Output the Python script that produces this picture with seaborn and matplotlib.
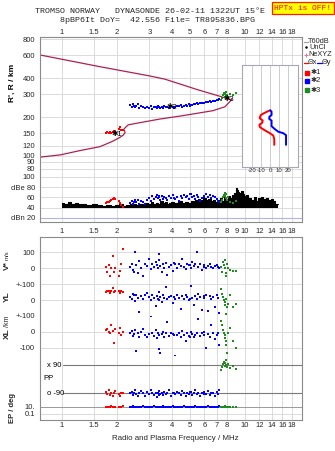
import numpy as np
import pandas as pd
import matplotlib
matplotlib.use('Agg')
import matplotlib.pyplot as plt
from matplotlib.lines import Line2D
from matplotlib.ticker import FixedLocator, FixedFormatter, NullLocator
import seaborn as sns

# ---------------- data ----------------
tick_f = [1, 1.5, 2, 3, 4, 5, 6, 7, 8, 10, 12, 14, 16, 18]
tick_l = ['1', '1.5', '2', '3', '4', '5', '6', '7', '8', '10', '12', '14', '16', '18']
mid_tick_f = [1, 1.5, 2, 3, 4, 5, 6, 7, 8, 9, 10, 12, 14, 16, 18]
mid_tick_l = ['1', '1.5', '2', '3', '4', '5', '6', '7', '8', '9', '10', '12', '14', '16', '18']
height_ticks = [80, 90, 100, 120, 150, 200, 300, 400, 600, 800]
amp_ticks = [100, 80, 60, 40, 20]
amp_labels = ['100', 'dBe 80', '60', '40', 'dBn 20']

# model trace (lower and upper branch)
lo_f = [0.76, 0.98, 1.25, 1.61, 1.87, 2.07, 2.16, 2.21, 2.20, 2.17, 2.22, 2.30, 2.67, 3.43, 4.58, 6.68, 7.77, 8.45]
lo_h = [98, 102, 110, 118, 129, 139, 145, 151, 156, 160, 166, 174, 181, 193, 205, 224, 240, 272]
up_f = [0.76, 1.61, 3.03, 3.66, 5.56, 7.14, 7.93, 8.45]
up_h = [603, 490, 415, 392, 324, 292, 279, 272]
# NeXYZ markers
ne_f = [1.99, 2.56, 2.92, 3.36, 3.81, 4.42, 4.80, 5.21, 5.67, 6.70]
ne_h = [125, 178, 183, 191, 198, 206, 211, 215, 219, 229]

# tilt inset
tx_h = [224, 216, 207, 196, 188, 181, 174, 167, 159, 151, 144, 135, 122]
tx_v = [-1, -6, -10.5, -11.7, -8.3, -8.8, -12, -11.3, -6.6, -1, 3.4, 4.5, 4.5]
ty_h = [226, 220, 207, 201, 193, 188, 170, 161, 154, 150, 145, 122]
ty_v = [0, 1.5, 1.5, -1, -1, 1.5, 1.5, 5.3, 9, 14.5, 17.5, 17.5]

# noise level
noise_f = [1.0, 1.05, 1.1, 1.15, 1.2, 1.25, 1.3, 1.4, 1.5, 1.6,
           1.7, 1.8, 1.9, 2.0, 2.1, 2.2, 2.3, 2.4, 2.5, 2.6,
           2.7, 2.8, 2.9, 3.0, 3.1, 3.2, 3.3, 3.4, 3.5, 3.6,
           3.7, 3.8, 3.9, 4.0, 4.2, 4.4, 4.6, 4.8, 5.0, 5.2,
           5.4, 5.5, 5.6, 5.8, 6.0, 6.2, 6.4, 6.6, 6.8, 7.0,
           7.2, 7.4, 7.6, 7.8, 8.0, 8.2, 8.4, 8.6, 8.8, 9.0,
           9.1, 9.2, 9.4, 9.6, 9.8, 10.0, 10.3, 10.6, 11.0, 11.3,
           11.6, 12.0, 12.4, 12.8, 13.2, 13.6, 14.0, 14.4, 14.8, 15.2]
noise_top = [49, 47, 50, 46, 48, 47, 46, 45, 46, 45,
             44, 45, 44, 45, 46, 44, 45, 47, 46, 45,
             47, 46, 48, 47, 50, 46, 49, 47, 52, 48,
             50, 47, 49, 51, 48, 52, 49, 50, 48, 52,
             54, 50, 57, 55, 58, 54, 56, 52, 55, 50,
             54, 58, 52, 60, 56, 62, 59, 64, 68, 78,
             74, 70, 68, 72, 66, 62, 64, 58, 54, 60,
             52, 58, 60, 56, 59, 54, 57, 52, 47, 46]
noise_base = 40

# echo groups
red_f = [1.74, 1.77, 1.80, 1.83, 1.86, 1.89, 1.92, 1.95, 2.04, 2.07, 2.10, 2.15]
red_h = [150, 152, 151, 153, 150, 152, 155, 153, 163, 168, 160, 158]
red_amp = [48, 50, 51, 53, 54, 56, 58, 57, 52, 48, 45, 42]
red_v = [10, -20, 24, -45, 5, 79, -24, 2, -49, -17, 30, 120]
red_yl = [50, 55, 60, 45, 55, 75, 50, 60, 55, 45, 58, 52]
red_xl = [10, 20, 0, -10, 40, 5, -72, 15, -5, 25, -20, 0]
red_pp = [-80, -95, -70, -100, -85, -110, -90, -75, -95, -105, -85, -90]
red_ep = [10, 9, 11, 10, 12, 8, 10, 11, 9, 10, 10, 12]

green_f = [7.35, 7.5, 7.6, 7.7, 7.75, 7.8, 7.85, 7.9, 8.0, 8.1, 8.3, 8.6, 8.9]
green_h = [272, 280, 295, 305, 285, 300, 310, 290, 298, 285, 300, 295, 305]
green_amp = [50, 55, 60, 65, 68, 62, 58, 66, 55, 60, 50, 48, 52]
green_v = [10, -20, 40, 20, 52, 0, -30, -45, 30, 5, -10, -19, -19]
green_yl = [68, 41, 19, 0, -12, -29, -87, 10, -45, -23, 30, -45, -23]
green_xl = [66, 40, 10, -5, -20, -40, -57, -83, -135, -10, 25, -60, -100]
green_pp = [60, 80, 95, 110, 100, 85, 120, 90, 75, 95, 70, 85, 65]
green_ep = [10, 10, 11, 9, 10, 12, 10, 9, 10, 11, 10, 10, 11]

blue_f = [2.35, 2.40, 2.45, 2.50, 2.55, 2.60, 2.65, 2.70, 2.78, 2.85,
          2.92, 3.00, 3.05, 3.10, 3.18, 3.25, 3.30, 3.35, 3.40, 3.45,
          3.50, 3.55, 3.60, 3.68, 3.75, 3.85, 3.95, 4.05, 4.15, 4.25,
          4.35, 4.45, 4.55, 4.65, 4.75, 4.85, 4.95, 5.05, 5.15, 5.25,
          5.35, 5.45, 5.55, 5.65, 5.80, 5.95, 6.10, 6.25, 6.40, 6.55,
          6.70, 6.85, 7.00, 7.10, 7.25, 2.48, 3.38, 4.10, 5.00, 6.00]
blue_h = [248, 240, 252, 238, 245, 250, 236, 242, 240, 233,
          238, 236, 243, 232, 240, 238, 235, 242, 238, 233,
          240, 236, 244, 238, 240, 236, 242, 240, 238, 244,
          242, 246, 240, 245, 248, 244, 250, 246, 248, 252,
          250, 255, 252, 256, 255, 258, 262, 260, 265, 262,
          268, 266, 272, 270, 276, 244, 240, 236, 245, 258]
blue_amp = [48, 52, 46, 54, 50, 55, 47, 53, 50, 46,
            55, 58, 52, 62, 56, 60, 64, 58, 62, 55,
            63, 57, 61, 59, 54, 62, 58, 64, 56, 60,
            53, 62, 58, 65, 60, 63, 57, 66, 60, 62,
            56, 64, 60, 52, 58, 62, 66, 60, 64, 58,
            62, 60, 56, 52, 50, 51, 60, 58, 66, 60]
blue_v = [10, 30, -10, 100, 20, -30, 45, 5, -50, 25,
          15, 60, -5, 30, 10, 40, 20, 0, 90, 15,
          -20, 25, 5, 35, -40, 10, 20, -15, 30, 5,
          25, 15, 60, 10, -5, 30, 20, 0, 40, 15,
          25, 105, 10, 30, -10, 20, 5, 15, 25, 10,
          0, 15, 20, 10, 5, -25, 50, 35, 20, 10]
blue_yl = [20, 10, 40, -5, 30, 15, -75, 25, 5, 35,
           45, 20, 0, 30, 15, -40, 25, 10, 50, 20,
           -10, 30, 15, 85, 5, 20, 25, -20, 10, 35,
           15, -55, 25, 10, 30, 20, 0, 90, 15, -30,
           25, 10, 40, 20, -60, 15, 30, -70, 25, 10,
           20, -45, 35, 15, -80, 30, 0, 20, 10, 25]
blue_xl = [-10, 5, -25, 10, -120, -5, -35, 0, 15, -20,
           -30, -15, 100, -5, -25, 10, -40, -10, -20, -135,
           -15, 0, -30, -10, 60, -25, -5, -15, -150, -20,
           -10, -30, 5, -20, -60, -10, -25, 0, -15, -35,
           -20, -5, 80, -25, -10, -20, -100, -15, -30, 40,
           -10, -45, -20, -5, -85, -15, -110, -20, -30, 0]
blue_pp = [-90, -80, -100, -70, -95, -110, -85, -75, -90, -105,
           -80, -95, -70, -90, -100, -85, -115, -90, -75, -95,
           -85, -100, -80, -95, -90, -70, -105, -85, -95, -80,
           -90, -100, -75, -90, -110, -85, -95, -80, -100, -90,
           -70, -95, -85, -105, -90, -80, -95, -75, -100, -85,
           -90, -110, -80, -95, -70, -85, -100, -90, -80, -95]
blue_ep = [10, 8, 12, 9, 11, 10, 7, 10, 13, 9,
           10, 11, 8, 10, 12, 9, 10, 7, 11, 10,
           9, 12, 10, 8, 11, 10, 9, 13, 10, 8,
           11, 10, 9, 12, 10, 7, 10, 11, 9, 10,
           12, 8, 10, 11, 9, 10, 10, 12, 8, 10,
           11, 9, 10, 10, 12, 9, 11, 10, 8, 10]

# ---------------- style ----------------
sns.set_theme(style='white')
plt.rcParams['font.family'] = ['Liberation Sans', 'DejaVu Sans']
plt.rcParams['axes.unicode_minus'] = False

W, H = 335, 451
fig = plt.figure(figsize=(W / 100, H / 100), dpi=100)
fig.patch.set_facecolor('white')

RED, BLUE, GREEN = '#ff0000', '#0000ff', '#1e8c1e'
TRACE = '#b0204e'
PINK = '#e070a0'
GRID = '#d6d6d6'
FRAME = '#8a8a8a'
TFS = 5.5
FMIN, FMAX = 0.758, 20.5


def box(x0, y0, x1, y1):
    return [x0 / W, 1 - y1 / H, (x1 - x0) / W, (y1 - y0) / H]


def fx(x):
    return x / W


def fy(y):
    return 1 - y / H


def freq_axis(ax, ticks=tick_f, labels=tick_l, where=None, pad=1.5):
    ax.set_facecolor('white')
    ax.set_xscale('log')
    ax.set_xlim(FMIN, FMAX)
    for f in tick_f:
        ax.axvline(f, color=GRID, lw=0.6, zorder=0)
    ax.xaxis.set_major_locator(FixedLocator(ticks))
    ax.xaxis.set_major_formatter(FixedFormatter(labels))
    ax.xaxis.set_minor_locator(NullLocator())
    ax.tick_params(axis='x', length=0, labelsize=TFS, pad=pad,
                   labelbottom=(where == 'bottom'), labeltop=(where == 'top'),
                   bottom=False, top=False)
    for s in ax.spines.values():
        s.set_color(FRAME)
        s.set_linewidth(0.8)


def y_ticks(ax, vals, labels, grid=True, gcolor=GRID):
    ax.yaxis.set_major_locator(FixedLocator(vals))
    ax.yaxis.set_major_formatter(FixedFormatter(labels))
    ax.yaxis.set_minor_locator(NullLocator())
    ax.tick_params(axis='y', length=0, labelsize=TFS, pad=3.6)
    if grid:
        for v in vals:
            ax.axhline(v, color=gcolor, lw=0.6, zorder=0)


red = pd.DataFrame(dict(f=red_f, h=red_h, amp=red_amp, v=red_v, yl=red_yl, xl=red_xl, pp=red_pp, ep=red_ep))
blue = pd.DataFrame(dict(f=blue_f, h=blue_h, amp=blue_amp, v=blue_v, yl=blue_yl, xl=blue_xl, pp=blue_pp, ep=blue_ep))
green = pd.DataFrame(dict(f=green_f, h=green_h, amp=green_amp, v=green_v, yl=green_yl, xl=green_xl, pp=green_pp, ep=green_ep))
groups = [(red, RED), (blue, BLUE), (green, GREEN)]
MS = 3.4


def scatter(ax, col):
    for df, c in groups:
        sns.scatterplot(data=df, x='f', y=col, color=c, marker='s', s=MS,
                        linewidth=0, ax=ax, legend=False, zorder=3)
    ax.set_xlabel('')
    ax.set_ylabel('')


# ---------------- height panel ----------------
ax_h = fig.add_axes(box(40, 37, 302, 172))
ax_h.set_yscale('log')
freq_axis(ax_h, where='top', pad=0.8)
ax_h.set_ylim(75.2, 831)
y_ticks(ax_h, height_ticks, [str(v) for v in height_ticks])
ax_h.spines['bottom'].set_visible(False)

trace_lo = pd.DataFrame(dict(f=lo_f, h=lo_h))
trace_up = pd.DataFrame(dict(f=up_f, h=up_h))
sns.lineplot(data=trace_lo, x='f', y='h', sort=False, estimator=None, color=TRACE, lw=0.9, ax=ax_h, zorder=2)
sns.lineplot(data=trace_up, x='f', y='h', sort=False, estimator=None, color=TRACE, lw=0.9, ax=ax_h, zorder=2)
ne = pd.DataFrame(dict(f=ne_f, h=ne_h))
sns.scatterplot(data=ne, x='f', y='h', color=PINK, marker='$\\mathtt{I}$', s=12, linewidth=0, ax=ax_h, legend=False, zorder=3)
scatter(ax_h, 'h')
ax_h.text(2.0, 146, '✱1', fontsize=5.5, color='black', ha='center', va='center', zorder=5)
ax_h.text(3.99, 239, '✱2', fontsize=5.5, color='black', ha='center', va='center', zorder=5)
ax_h.text(8.2, 272, '✱3', fontsize=5.5, color='black', ha='center', va='center', zorder=5)
ax_h.text(-0.105, 0.66, "R', R / km", transform=ax_h.transAxes, rotation=90, fontsize=6,
          fontweight='bold', ha='center', va='center', color='black')

# ---------------- tilt inset ----------------
ax_in = fig.add_axes(box(241.7, 65, 297.7, 167.3))
ax_in.set_facecolor('white')
ax_in.set_yscale('log')
ax_in.set_ylim(81.8, 505)
ax_in.set_xlim(-31.5, 30.4)
for t in [-20, -10, 0, 10, 20]:
    ax_in.axvline(t, color='#c4c4cc', lw=0.6, zorder=0)
ax_in.xaxis.set_major_locator(FixedLocator([-20, -10, 0, 10, 20]))
ax_in.xaxis.set_major_formatter(FixedFormatter(['-20', '-10', '0', '10', '20']))
ax_in.yaxis.set_major_locator(NullLocator())
ax_in.yaxis.set_minor_locator(NullLocator())
ax_in.tick_params(axis='x', length=0, labelsize=4.3, pad=0.8)
for s in ax_in.spines.values():
    s.set_color('#a8a8b4')
    s.set_linewidth(0.8)
tdx = pd.DataFrame(dict(t=tx_v, h=tx_h))
tdy = pd.DataFrame(dict(t=ty_v, h=ty_h))
sns.lineplot(data=tdx, x='t', y='h', sort=False, estimator=None, color=RED, lw=1.4, ax=ax_in)
sns.lineplot(data=tdy, x='t', y='h', sort=False, estimator=None, color=BLUE, lw=1.4, ax=ax_in)
ax_in.set_ylabel('')
ax_in.set_xlabel('Tilt / deg', fontsize=4.3, labelpad=0.3)

# ---------------- amplitude panel ----------------
ax_a = fig.add_axes(box(40, 172, 302, 222))
freq_axis(ax_a, ticks=mid_tick_f, labels=mid_tick_l, where='bottom', pad=4.2)
ax_a.set_ylim(11.6, 109.8)
y_ticks(ax_a, amp_ticks, amp_labels)
ax_a.axhline(20, color='#b4b4e4', lw=0.8, zorder=0)
ax_a.spines['top'].set_visible(False)
noise = pd.DataFrame(dict(f=noise_f, top=noise_top))
ax_a.fill_between(noise['f'], noise_base, noise['top'], step='mid', color='black', lw=0, zorder=2)
sns.lineplot(data=noise, x='f', y='top', drawstyle='steps-mid', color='black', lw=0.8, ax=ax_a, zorder=2)
scatter(ax_a, 'amp')

# ---------------- lower stacked panels ----------------
bands = [
    ('v', 237, 284.3, (-100, 197), [100, 0], ['100', '0'], False),
    ('yl', 284.3, 316, (-100, 100), [100, 0, -100], ['+-100', '0', '+-100'], False),
    ('xl', 316, 356, (-153, 100), [0, -100], ['0', '-100'], False),
    ('pp', 356, 400, (-132.7, 147.3), [], [], False),
    ('ep', 400, 419.5, (10 ** -2.507, 10 ** 2.836), [10, 0.1], ['10.', '0.1'], True),
]
lower_axes = {}
for i, (col, y0, y1, lim, tv, tl, logy) in enumerate(bands):
    ax = fig.add_axes(box(40, y0, 302, y1))
    if logy:
        ax.set_yscale('log')
    last = (i == len(bands) - 1)
    freq_axis(ax, where='bottom' if last else None, pad=1.6)
    ax.set_ylim(*lim)
    y_ticks(ax, tv, tl)
    if i > 0:
        ax.spines['top'].set_visible(False)
    if not last:
        ax.spines['bottom'].set_visible(False)
    scatter(ax, col)
    ax.set_ylim(*lim)
    lower_axes[col] = ax

ax_pp = lower_axes['pp']
for v, lab in [(90, 'x 90'), (-90, 'o -90')]:
    ax_pp.axhline(v, xmin=0.088, xmax=1, color='#7a7a7a', lw=0.8, zorder=1)
    ax_pp.text(0.027, v, lab, transform=ax_pp.get_yaxis_transform(), fontsize=TFS,
               ha='left', va='center', color='black')
ax_pp.text(0.012, 5, 'PP', transform=ax_pp.get_yaxis_transform(), fontsize=TFS,
           ha='left', va='center', color='black')
lower_axes['ep'].axhline(10, color='#9a9a9a', lw=0.7, zorder=1)

# lower-panel side labels
fig.text(fx(7.5), fy(266), 'V*', rotation=90, fontsize=6, fontweight='bold', ha='center', va='center')
fig.text(fx(7.5), fy(255), 'm/s', rotation=90, fontsize=4.3, ha='center', va='center')
fig.text(fx(7.5), fy(297), 'YL', rotation=90, fontsize=6, fontweight='bold', ha='center', va='center')
fig.text(fx(7.5), fy(321), '/km', rotation=90, fontsize=5, ha='center', va='center')
fig.text(fx(7.5), fy(334), 'XL', rotation=90, fontsize=6, fontweight='bold', ha='center', va='center')
fig.text(fx(13), fy(408), 'EP / deg', rotation=90, fontsize=5.5, fontweight='bold', ha='center', va='center')
fig.text(fx(175), fy(439), 'Radio and Plasma Frequency / MHz', fontsize=5.7, ha='center', va='center')

# ---------------- header ----------------
fig.text(fx(35), fy(11.7), 'TROMSO NORWAY   DYNASONDE 26-02-11 1322UT 15°E',
         family=['Liberation Mono', 'DejaVu Sans Mono'], fontsize=6, ha='left', va='center')
fig.text(fx(60), fy(20.3), '8pBP6It DoY=  42.556 File= TR895836.BPG',
         family=['Liberation Mono', 'DejaVu Sans Mono'], fontsize=6, ha='left', va='center')
fig.text(fx(303), fy(8), 'HPTx is OFF!', family=['Liberation Mono', 'DejaVu Sans Mono'],
         fontsize=5.8, color='#ff0000', ha='center', va='center',
         bbox=dict(boxstyle='square,pad=0.25', fc='#ffff00', ec='#ff2000', lw=0.9))

# ---------------- legend (right side) ----------------
LFS = 5.3
def fline(x0, x1, y, c, lw=0.9):
    fig.add_artist(Line2D([fx(x0), fx(x1)], [fy(y), fy(y)], color=c, lw=lw, transform=fig.transFigure))

fline(303.5, 307.5, 41.7, '#a0a0a0')
fig.text(fx(308), fy(41.7), 'T60dB', fontsize=LFS, ha='left', va='center')
fig.add_artist(Line2D([fx(306)], [fy(47.3)], marker='o', ms=0.8, color='black', lw=0, transform=fig.transFigure))
fig.text(fx(309.3), fy(47.3), 'UnCl', fontsize=LFS, ha='left', va='center')
fig.add_artist(Line2D([fx(305.5)], [fy(54.7)], marker='+', ms=3.5, mew=0.7, color=PINK, lw=0, transform=fig.transFigure))
fig.text(fx(308.3), fy(54.7), 'NeXYZ', fontsize=LFS, ha='left', va='center')
fline(303.5, 307.5, 62.7, RED)
fig.text(fx(308), fy(62.7), 'Θx', fontsize=LFS, ha='left', va='center')
fline(317.3, 321.5, 62.7, BLUE)
fig.text(fx(322), fy(62.7), 'Θy', fontsize=LFS, ha='left', va='center')
for yy, c, lab in [(72.7, RED, '✱1'), (80.7, BLUE, '✱2'), (90, GREEN, '✱3')]:
    fig.add_artist(Line2D([fx(307.3)], [fy(yy)], marker='s', ms=2.2, color=c, lw=0, transform=fig.transFigure))
    fig.text(fx(310.5), fy(yy), lab, fontsize=LFS, ha='left', va='center')

fig.savefig('out.png', dpi=100, facecolor='white')
